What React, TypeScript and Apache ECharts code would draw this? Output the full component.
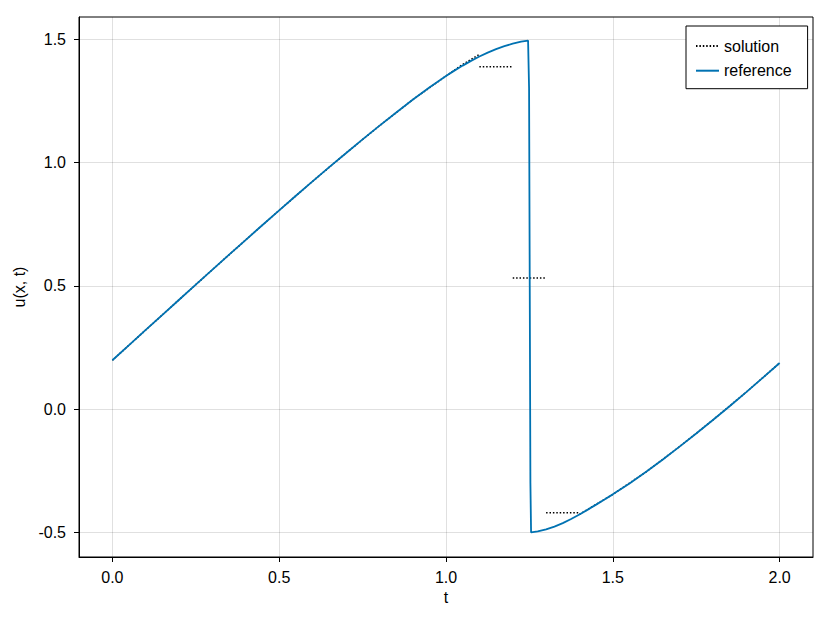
import React, { useEffect, useRef } from "react";
import * as echarts from "echarts";

// reference curve u(x, t) sampled over t
const refT = [
  0.0, 0.05, 0.1, 0.15, 0.2, 0.25, 0.3, 0.35, 0.4, 0.45, 0.5, 0.55, 0.6, 0.65, 0.7, 0.75,
  0.8, 0.85, 0.9, 0.95, 1.0, 1.025, 1.05, 1.075, 1.1, 1.125, 1.15, 1.175, 1.2, 1.225, 1.246,
  1.249, 1.251, 1.253, 1.255, 1.275, 1.3, 1.325, 1.35, 1.375, 1.4, 1.425, 1.45, 1.475, 1.5,
  1.55, 1.6, 1.65, 1.7, 1.75, 1.8, 1.85, 1.9, 1.95, 2.0,
];
const refU = [
  0.198, 0.2595, 0.3209, 0.3822, 0.4434, 0.5045, 0.5654, 0.626, 0.6862, 0.7462, 0.8058,
  0.8649, 0.9232, 0.9807, 1.0374, 1.0933, 1.1481, 1.2016, 1.2538, 1.3037, 1.3503, 1.3721,
  1.3925, 1.4116, 1.4293, 1.4453, 1.4593, 1.4713, 1.4813, 1.4893, 1.4941, 1.3, 0.5, -0.3,
  -0.5, -0.4959, -0.4876, -0.4762, -0.4621, -0.4456, -0.4271, -0.4074, -0.3872, -0.3666,
  -0.3456, -0.3015, -0.2541, -0.2041, -0.1521, -0.0986, -0.0441, 0.0117, 0.069, 0.1275,
  0.187,
];

// solution (null = break between segments)
const solT = [
  0.0, 0.1, 0.2, 0.3, 0.4, 0.5, 0.6, 0.7, 0.8, 0.9, 1.0, 1.025, 1.05, 1.075, 1.1,
  1.1, 1.1, 1.2, 1.2, 1.2, 1.3, 1.3, 1.3, 1.4, 1.4, 1.4, 1.5, 1.6, 1.7, 1.8, 1.9, 2.0,
];
const solU: (number | null)[] = [
  0.198, 0.3209, 0.4434, 0.5654, 0.6862, 0.8058, 0.9232, 1.0374, 1.1481, 1.2538, 1.3503,
  1.374, 1.397, 1.418, 1.438, null, 1.388, 1.388, null, 0.531, 0.531, null, -0.42, -0.42,
  null, -0.4271, -0.3456, -0.2541, -0.1521, -0.0441, 0.069, 0.187,
];

const xTicks = [0, 0.5, 1.0, 1.5, 2.0];
const yTicks = [-0.5, 0, 0.5, 1.0, 1.5];

export default function App() {
  const ref = useRef<HTMLDivElement>(null);
  useEffect(() => {
    if (!ref.current) return;
    const chart = echarts.init(ref.current, null, { renderer: "svg" });
    const font = "Liberation Sans, Arial, Helvetica, sans-serif";
    const refData = refT.map((t, i) => [t, refU[i]]);
    const solData = solT.map((t, i) => (solU[i] === null ? [t, "-"] : [t, solU[i]]));
    chart.setOption({
      animation: false,
      backgroundColor: "#fff",
      textStyle: { fontFamily: font },
      grid: {
        left: 79,
        right: 17,
        top: 17,
        bottom: 66,
        show: true,
        borderColor: "#000",
        borderWidth: 1,
      },
      legend: {
        left: 686,
        top: 26,
        orient: "vertical",
        padding: [12, 16, 10, 9],
        itemGap: 8.7,
        itemWidth: 23,
        itemHeight: 14,
        borderColor: "#000",
        borderWidth: 1,
        borderRadius: 0,
        backgroundColor: "#fff",
        itemStyle: { opacity: 0, borderWidth: 0 },
        textStyle: { fontSize: 16, color: "#000", lineHeight: 16, fontFamily: font },
        data: ["solution", "reference"],
      },
      xAxis: {
        type: "value",
        min: -0.1,
        max: 2.1,
        name: "t",
        nameLocation: "middle",
        nameGap: 32,
        nameTextStyle: { fontSize: 16, color: "#000", fontFamily: font },
        axisLine: { show: true, onZero: false, lineStyle: { color: "#000", width: 1 } },
        axisTick: { show: true, length: 5, customValues: xTicks, lineStyle: { color: "#000" } },
        axisLabel: {
          customValues: xTicks,
          formatter: (v: number) => v.toFixed(1),
          fontSize: 16,
          color: "#000",
          margin: 12,
          fontFamily: font,
        },
        splitLine: { show: true, lineStyle: { color: "rgba(0,0,0,0.12)", width: 1 } },
      },
      yAxis: {
        type: "value",
        min: -0.5995,
        max: 1.5895,
        name: "u(x, t)",
        nameLocation: "middle",
        nameGap: 41,
        nameTextStyle: { fontSize: 16, color: "#000", fontFamily: font },
        axisLine: { show: true, onZero: false, lineStyle: { color: "#000", width: 1 } },
        axisTick: { show: true, length: 5, customValues: yTicks, lineStyle: { color: "#000" } },
        axisLabel: {
          customValues: yTicks,
          formatter: (v: number) => v.toFixed(1),
          fontSize: 16,
          color: "#000",
          margin: 13,
          fontFamily: font,
        },
        splitLine: { show: true, lineStyle: { color: "rgba(0,0,0,0.12)", width: 1 } },
      },
      series: [
        {
          name: "solution",
          type: "line",
          data: solData,
          symbol: "none",
          connectNulls: false,
          lineStyle: { color: "#000", width: 1.5, type: [1.5, 1.9], cap: "butt" },
          itemStyle: { color: "#000" },
          z: 2,
        },
        {
          name: "reference",
          type: "line",
          data: refData,
          symbol: "none",
          lineStyle: { color: "#0072B2", width: 1.8 },
          itemStyle: { color: "#0072B2" },
          z: 3,
        },
      ],
    });
    return () => chart.dispose();
  }, []);
  return <div ref={ref} style={{ width: 830, height: 623, position: "absolute", left: 0, top: 0 }} />;
}
